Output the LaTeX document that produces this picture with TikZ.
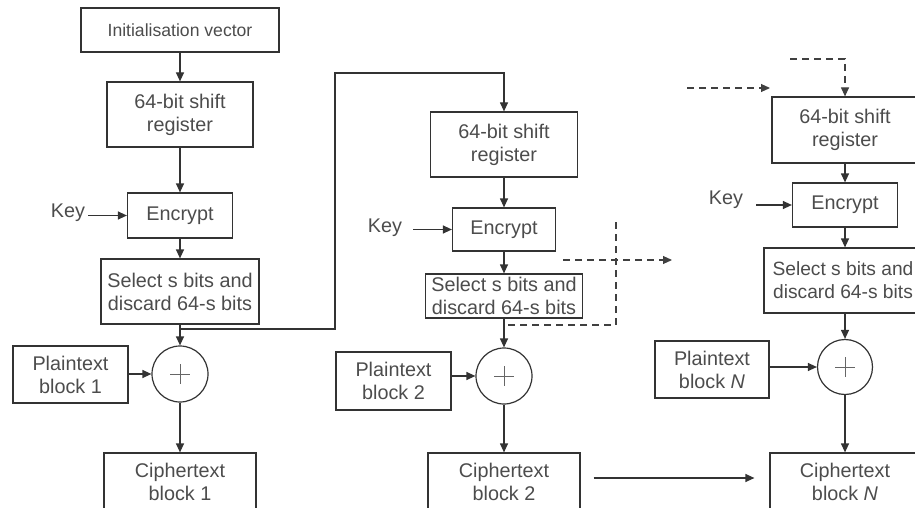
\documentclass[tikz,border=0pt]{standalone}
\usepackage{fontspec}
\setmainfont{Liberation Sans}
\usetikzlibrary{arrows.meta}
\tikzset{
  blk/.style={draw=black!80, line width=1.2pt, text=black!70, align=center, inner sep=0pt},
  xorc/.style={circle, draw=black!80, line width=1.2pt, minimum size=56pt, inner sep=0pt},
  arr/.style={draw=black!80, line width=1.2pt, -{Triangle[length=9pt,width=8pt]}},
  dsh/.style={draw=black!75, line width=1.1pt, dash pattern=on 7pt off 5pt},
  lbl/.style={text=black!70, inner sep=0pt}
}
\begin{document}
\begin{tikzpicture}[x=1pt,y=-1pt,font=\fontsize{19.8}{23}\selectfont]
    \useasboundingbox (0,0) rectangle (915,508);
    \clip (0,0) rectangle (915,508);
    % first block
    \node[blk, minimum width=198pt, minimum height=44pt, font=\fontsize{17.6}{20}\selectfont] (iv) at (180,30) {Initialisation vector};
    \node[blk, minimum width=146pt, minimum height=65pt] (sr1) at (180,114.5) {64-bit shift\\register};
    \node[blk, minimum width=105pt, minimum height=45pt] (enc1) at (180,215.5) {Encrypt};
    \node[blk, minimum width=158pt, minimum height=65pt] (sel1) at (180,291.5) {Select s bits and\\discard 64-s bits};
    \node[xorc] (x1) at (180,374) {};
    \node[blk, minimum width=115pt, minimum height=57pt] (pt1) at (70.5,374.5) {Plaintext\\block 1};
    \node[blk, minimum width=152pt, minimum height=58pt] (ct1) at (180,482) {Ciphertext\\block 1};
    \node[lbl] (key1) at (68,213) {Key};
    % second block
    \node[blk, minimum width=147pt, minimum height=65pt] (sr2) at (504,144.5) {64-bit shift\\register};
    \node[blk, minimum width=103pt, minimum height=43pt] (enc2) at (504,229.5) {Encrypt};
    \node[blk, minimum width=157pt, minimum height=44pt] (sel2) at (504,296) {Select s bits and\\discard 64-s bits};
    \node[xorc] (x2) at (504,376) {};
    \node[blk, minimum width=115pt, minimum height=58pt] (pt2) at (393.5,381) {Plaintext\\block 2};
    \node[blk, minimum width=152pt, minimum height=58pt] (ct2) at (504,482) {Ciphertext\\block 2};
    \node[lbl] (key2) at (385,228) {Key};
    % last block
    \node[blk, minimum width=146pt, minimum height=66pt] (srN) at (845,130) {64-bit shift\\register};
    \node[blk, minimum width=105pt, minimum height=44pt] (encN) at (845,205) {Encrypt};
    \node[blk, minimum width=158pt, minimum height=65pt, font=\fontsize{19.2}{23}\selectfont] (selN) at (843,280.5) {Select s bits and\\discard 64-s bits};
    \node[xorc, minimum size=55pt] (xN) at (845,367) {};
    \node[blk, minimum width=114pt, minimum height=57pt] (ptN) at (712,369.5) {Plaintext\\block \textit{N}};
    \node[blk, minimum width=150pt, minimum height=58pt] (ctN) at (845,482) {Ciphertext\\block \textit{N}};
    \node[lbl] (keyN) at (726,200) {Key};
    % plus signs
    \foreach \c in {x1,x2,xN}
        \draw[black!60, line width=0.8pt] (\c.center) +(-10,0) -- +(10,0) (\c.center) +(0,-10) -- +(0,10);
    % arrows
    \draw[arr] (iv) -- (sr1);
    \draw[arr] (sr1) -- (enc1);
    \draw[arr] (enc1) -- (sel1);
    \draw[arr] (sel1) -- (x1);
    \draw[arr] (x1) -- (ct1);
    \draw[arr] (pt1.east |- x1.west) -- (x1.west);
    \draw[arr, shorten <=3pt] (key1.east |- enc1.west) -- (enc1.west);
    \draw[arr] (sr2) -- (enc2);
    \draw[arr] (enc2) -- (sel2);
    \draw[arr] (sel2) -- (x2);
    \draw[arr] (x2) -- (ct2);
    \draw[arr] (pt2.east |- x2.west) -- (x2.west);
    \draw[arr, shorten <=11pt] (key2.east |- enc2.west) -- (enc2.west);
    \draw[arr] (srN) -- (encN);
    \draw[arr] (encN) -- (encN |- selN.north);
    \draw[arr] (encN |- selN.south) -- (xN);
    \draw[arr] (xN) -- (ctN);
    \draw[arr] (ptN.east |- xN.west) -- (xN.west);
    \draw[arr, shorten <=13pt] (keyN.east |- encN.west) -- (encN.west);
    \draw[arr, shorten <=13pt, shorten >=15pt] ([yshift=4pt]ct2.east) -- ([yshift=4pt]ct2.east -| ctN.west);
    % feedback
    \coordinate (fb1) at (180,329);
    \coordinate (fb2) at (335,73);
    \draw[arr] (fb1) -| (fb2) -| (sr2.north);
    % dashed continuation
    \coordinate (d1) at (616,222);
    \coordinate (d2) at (616,325);
    \coordinate (d3) at (504,325);
    \draw[dsh] (d1) -- (d2) -- (d3);
    \coordinate (d4) at (563,260);
    \coordinate (d5) at (672,260);
    \draw[dsh, -{Triangle[length=9pt,width=8pt]}] (d4) -- (d5);
    \coordinate (d6) at (687,88);
    \coordinate (d7) at (770,88);
    \draw[dsh, -{Triangle[length=9pt,width=8pt]}] (d6) -- (d7);
    \coordinate (d8) at (790,59);
    \draw[dsh, -{Triangle[length=9pt,width=8pt]}] (d8) -| (srN.north);
\end{tikzpicture}
\end{document}
